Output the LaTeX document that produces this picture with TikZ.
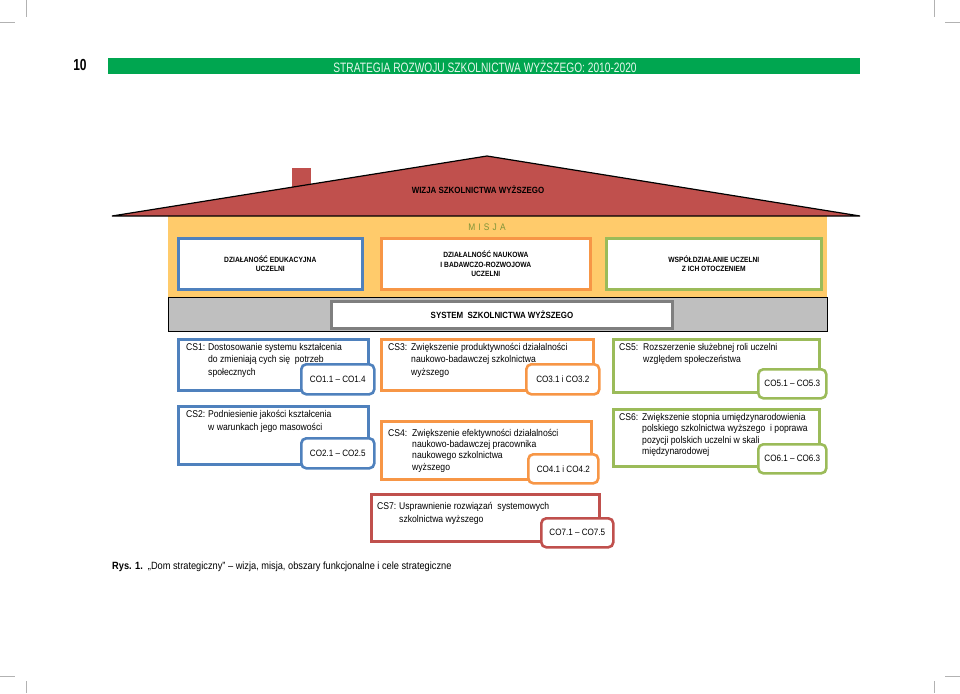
\documentclass[tikz,border=0pt]{standalone}
\usepackage{fontspec}
\setmainfont[FakeStretch=0.88]{Liberation Sans}
\newfontfamily\hdrfont[FakeStretch=0.75]{Liberation Sans}
\definecolor{cblue}{HTML}{4F81BD}
\definecolor{corange}{HTML}{F79646}
\definecolor{cgreen}{HTML}{9BBB59}
\definecolor{cred}{HTML}{C0504D}
\definecolor{roofred}{HTML}{C0504D}
\definecolor{housey}{HTML}{FFCB6B}
\definecolor{bandgray}{HTML}{BFBFBF}
\definecolor{sysgray}{HTML}{7F7F7F}
\definecolor{hdrgreen}{HTML}{00A650}
\definecolor{hdrtext}{HTML}{E6F7EC}
\definecolor{misjac}{HTML}{7E9438}
\begin{document}
\begin{tikzpicture}[x=1pt,y=-1pt,
  csbox/.style={draw=#1, line width=2.6pt, fill=white, rectangle, inner sep=0, anchor=north west},
  cobox/.style={draw=#1, line width=2.6pt, fill=white, rounded corners=5pt, inner sep=0, anchor=north west, font=\fontsize{9.2}{11}\selectfont},
  cstext/.style={inner sep=0, anchor=base west, font=\fontsize{9.8}{12.5}\selectfont},
  cstight/.style={inner sep=0, anchor=base west, font=\fontsize{9.8}{11.4}\selectfont},
  mtext/.style={align=center, inner sep=0, font=\bfseries\fontsize{7.6}{9.2}\selectfont},
  crop/.style={draw=gray!60, line width=0.8pt}]
\useasboundingbox (0,0) rectangle (960,693);
% crop marks
\draw[crop] (26,0) -- (26,17);
\draw[crop] (0,22) -- (15,22);
\draw[crop] (934,0) -- (934,17);
\draw[crop] (945,22) -- (960,22);
\draw[crop] (0,676) -- (15,676);
\draw[crop] (26,681) -- (26,693);
\draw[crop] (945,676) -- (960,676);
\draw[crop] (934,681) -- (934,693);
% header
\node[font=\hdrfont\bfseries\fontsize{16}{18}\selectfont] (pg) at (80,65) {10};
\fill[hdrgreen] (108,58) rectangle (860,74);
\node[font=\hdrfont\fontsize{13.6}{14}\selectfont, text=hdrtext] (hdr) at (485,66.5) {STRATEGIA ROZWOJU SZKOLNICTWA WYŻSZEGO: 2010-2020};
% house body
\fill[housey] (168,216) rectangle (827,297);
\fill[roofred] (292,168) rectangle (311,190);
\draw[line width=1.2pt, fill=roofred, line join=miter] (112,216) -- (487,156) -- (860,216) -- cycle;
\node[font=\bfseries\fontsize{9}{11}\selectfont] (vision) at (478,190) {WIZJA SZKOLNICTWA WYŻSZEGO};
\node[font=\fontsize{9.5}{11}\selectfont, text=misjac] (mission) at (487,227.5) {M\,\,I\,\,S\,\,J\,\,A};
% mission boxes
\node[csbox=cblue, minimum width=184, minimum height=51] (m1) at (177,237) {};
\node[mtext] (m1t) at (m1.center) {DZIAŁANOŚĆ EDUKACYJNA\\UCZELNI};
\node[csbox=corange, minimum width=209, minimum height=51] (m2) at (380,237) {};
\node[mtext] (m2t) at (m2.center) {DZIAŁALNOŚĆ NAUKOWA\\I BADAWCZO-ROZWOJOWA\\UCZELNI};
\node[csbox=cgreen, minimum width=215, minimum height=51] (m3) at (605,237) {};
\node[mtext] (m3t) at (m3.center) {WSPÓŁDZIAŁANIE UCZELNI\\Z ICH OTOCZENIEM};
% system band
\draw[fill=bandgray, draw=black, line width=1pt] (168,297) rectangle (827,331);
\node[draw=sysgray, line width=3pt, fill=white, minimum width=341, minimum height=27, anchor=north west, inner sep=0] (sys) at (330,300) {};
\node[font=\bfseries\fontsize{9}{11}\selectfont] (syst) at (sys.center) {SYSTEM\ \ SZKOLNICTWA WYŻSZEGO};
% CS1
\node[csbox=cblue, minimum width=190, minimum height=51] (cs1) at (177,338) {};
\node[cobox=cblue, minimum width=73, minimum height=30] (co1) at (300,363) {CO1.1 – CO1.4};
\node[cstext] (cs1t) at (186,350) {\begin{tabular}[t]{@{}p{22pt}@{}l@{}}CS1: & Dostosowanie systemu kształcenia\\ & do zmieniają cych się\ \ potrzeb\\ & społecznych\end{tabular}};
% CS3
\node[csbox=corange, minimum width=212, minimum height=51] (cs3) at (380,338) {};
\node[cobox=corange, minimum width=73, minimum height=30] (co3) at (525,363) {CO3.1 i CO3.2};
\node[cstext] (cs3t) at (388,350) {\begin{tabular}[t]{@{}p{23pt}@{}l@{}}CS3: & Zwiększenie produktywności działalności\\ & naukowo-badawczej szkolnictwa\\ & wyższego\end{tabular}};
% CS5
\node[csbox=cgreen, minimum width=206, minimum height=53] (cs5) at (612,338) {};
\node[cobox=cgreen, minimum width=68, minimum height=29] (co5) at (757,368) {CO5.1 – CO5.3};
\node[cstext] (cs5t) at (619,350) {\begin{tabular}[t]{@{}p{24pt}@{}l@{}}CS5: & Rozszerzenie służebnej roli uczelni\\ & względem społeczeństwa\end{tabular}};
% CS2
\node[csbox=cblue, minimum width=190, minimum height=58] (cs2) at (177,405) {};
\node[cobox=cblue, minimum width=73, minimum height=30] (co2) at (300,437) {CO2.1 – CO2.5};
\node[cstext] (cs2t) at (186,417.5) {\begin{tabular}[t]{@{}p{22pt}@{}l@{}}CS2: & Podniesienie jakości kształcenia\\ & w warunkach jego masowości\end{tabular}};
% CS4
\node[csbox=corange, minimum width=210, minimum height=58] (cs4) at (380,420) {};
\node[cobox=corange, minimum width=70, minimum height=29] (co4) at (527,453) {CO4.1 i CO4.2};
\node[cstight] (cs4t) at (388,436) {\begin{tabular}[t]{@{}p{24pt}@{}l@{}}CS4: & Zwiększenie efektywności działalności\\ & naukowo-badawczej pracownika\\ & naukowego szkolnictwa\\ & wyższego\end{tabular}};
% CS6
\node[csbox=cgreen, minimum width=206, minimum height=57] (cs6) at (612,408) {};
\node[cobox=cgreen, minimum width=68, minimum height=29] (co6) at (757,443) {CO6.1 – CO6.3};
\node[cstight] (cs6t) at (619,420.5) {\begin{tabular}[t]{@{}p{23pt}@{}l@{}}CS6: & Zwiększenie stopnia umiędzynarodowienia\\ & polskiego szkolnictwa wyższego\ \ i poprawa\\ & pozycji polskich uczelni w skali\\ & międzynarodowej\end{tabular}};
% CS7
\node[csbox=cred, minimum width=228, minimum height=47] (cs7) at (370,493) {};
\node[cobox=cred, minimum width=72, minimum height=29] (co7) at (540,517) {CO7.1 – CO7.5};
\node[cstext] (cs7t) at (377,509.5) {\begin{tabular}[t]{@{}p{22pt}@{}l@{}}CS7: & Usprawnienie rozwiązań\ \ systemowych\\ & szkolnictwa wyższego\end{tabular}};
% caption
\node[anchor=base west, inner sep=0, font=\fontsize{10.5}{12}\selectfont] (cap) at (112,569) {\textbf{Rys. 1.}\ \ „Dom strategiczny” – wizja, misja, obszary funkcjonalne i cele strategiczne};
\end{tikzpicture}
\end{document}
